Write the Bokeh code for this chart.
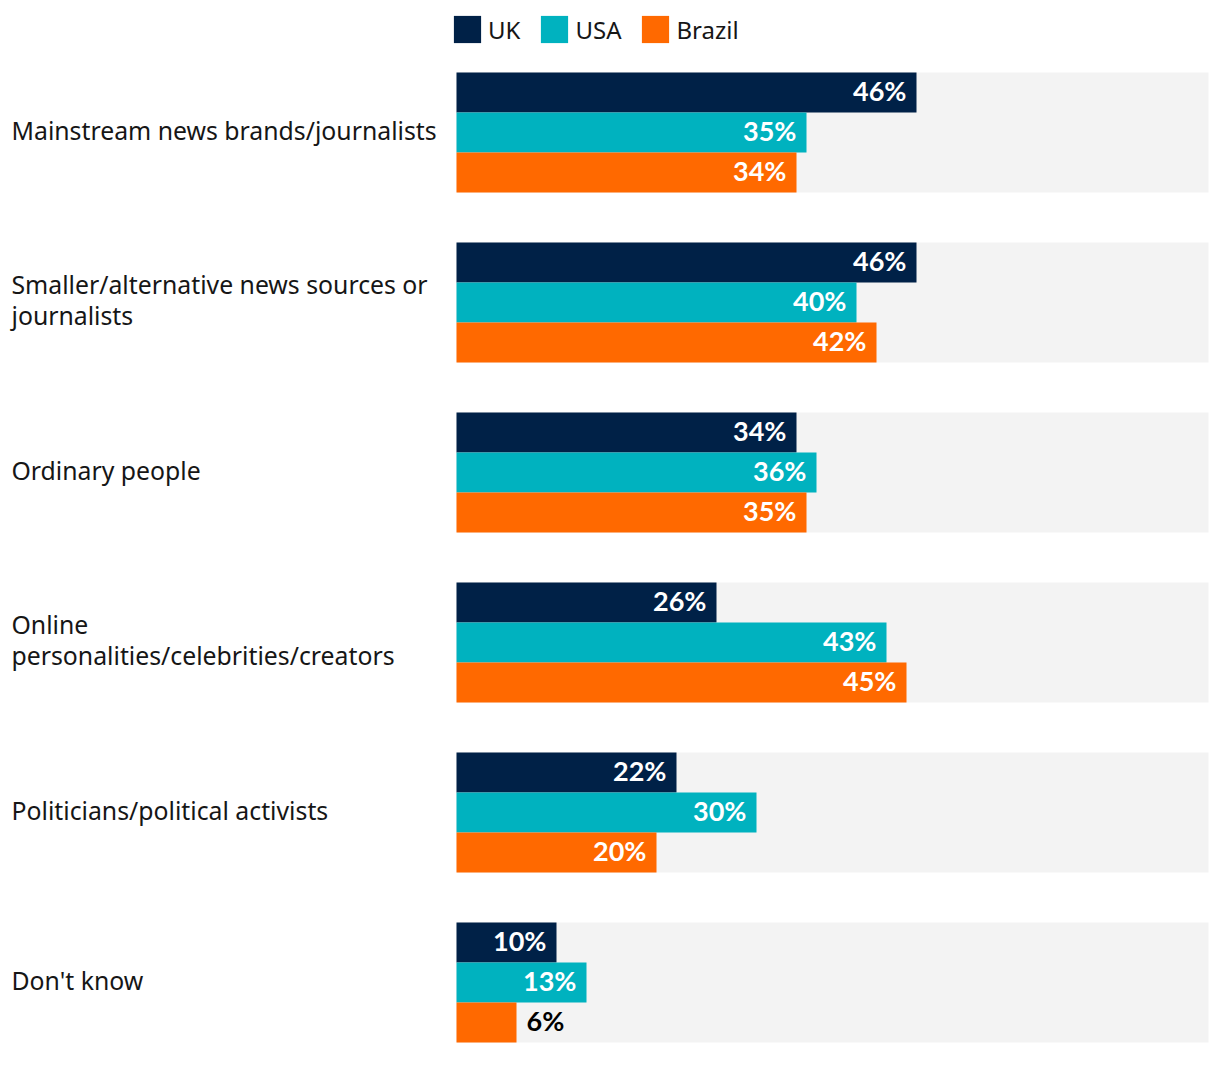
from bokeh.plotting import figure
from bokeh.models import Range1d, ColumnDataSource, Legend, LegendItem
from bokeh.core.properties import value
from bokeh.embed import file_html
from bokeh.resources import INLINE

categories = [
    "Mainstream news brands/journalists",
    "Smaller/alternative news sources or\njournalists",
    "Ordinary people",
    "Online\npersonalities/celebrities/creators",
    "Politicians/political activists",
    "Don't know",
]
series_names = ["UK", "USA", "Brazil"]
uk = [46, 46, 34, 26, 22, 10]
usa = [35, 40, 36, 43, 30, 13]
brazil = [34, 42, 35, 45, 20, 6]
series_values = [uk, usa, brazil]
colors = ["#002147", "#00B2BF", "#FF6900"]

W, H = 1214, 1086
# layout (screen-pixel based data space)
LEFT = 456          # canvas x where value 0 sits
PX_PER_PCT = 10.0
TOP = 72            # first group top
BAR_H = 40
GROUP_GAP = 50
GROUP_H = BAR_H * len(series_names)
BG_END = 75.2

p = figure(width=W, height=H, output_backend="svg", toolbar_location=None,
           x_range=Range1d(-LEFT / PX_PER_PCT, (W - LEFT) / PX_PER_PCT),
           y_range=Range1d(H, 0), min_border=0)
p.xaxis.visible = False
p.yaxis.visible = False
p.grid.visible = False
p.outline_line_color = None
p.background_fill_color = "white"
p.border_fill_color = "white"

# grey backgrounds
g_top = [TOP + i * (GROUP_H + GROUP_GAP) for i in range(len(categories))]
g_bot = [t + GROUP_H for t in g_top]
p.quad(left=[0] * len(categories), right=[BG_END] * len(categories),
       top=g_top, bottom=g_bot, fill_color="#F3F3F3", line_color=None)

# category labels
p.text(x=[(11 - LEFT) / PX_PER_PCT] * len(categories),
       y=[t + GROUP_H / 2 for t in g_top], text=categories, y_offset=-3,
       text_font=value("Noto Sans"), text_font_size="24.8px", text_color="#161616",
       text_align="left", text_baseline="middle", text_line_height=0.9)

legend_items = []
for j, (name, vals, col) in enumerate(zip(series_names, series_values, colors)):
    tops = [t + j * BAR_H for t in g_top]
    bots = [t + BAR_H for t in tops]
    src = ColumnDataSource(dict(left=[0] * len(vals), right=vals, top=tops, bottom=bots))
    r = p.quad(left="left", right="right", top="top", bottom="bottom", source=src,
               fill_color=col, line_color=None)
    legend_items.append(LegendItem(label=name, renderers=[r]))

    ys = [t + BAR_H / 2 for t in tops]
    in_x = [v for v in vals if v >= 8]
    in_y = [y for v, y in zip(vals, ys) if v >= 8]
    out_x = [v for v in vals if v < 8]
    out_y = [y for v, y in zip(vals, ys) if v < 8]
    p.text(x=in_x, y=in_y, text=[f"{v}%" for v in in_x], x_offset=-10, y_offset=-2,
           text_font=value("Lato"), text_font_style="bold", text_font_size="27px",
           text_color="white", text_align="right", text_baseline="middle")
    if out_x:
        p.text(x=out_x, y=out_y, text=[f"{v}%" for v in out_x], x_offset=10, y_offset=-2,
               text_font=value("Lato"), text_font_style="bold", text_font_size="27px",
               text_color="black", text_align="left", text_baseline="middle")

legend = Legend(items=legend_items, orientation="horizontal",
                location=(450, H - 46), glyph_width=34, glyph_height=34,
                label_standoff=4, spacing=17, padding=0, margin=0,
                label_text_font="Noto Sans", label_text_font_size="24px",
                label_text_color="#161616", border_line_color=None,
                background_fill_alpha=0, label_height=34)
p.add_layout(legend)

open("out.html", "w").write(file_html(p, INLINE))
